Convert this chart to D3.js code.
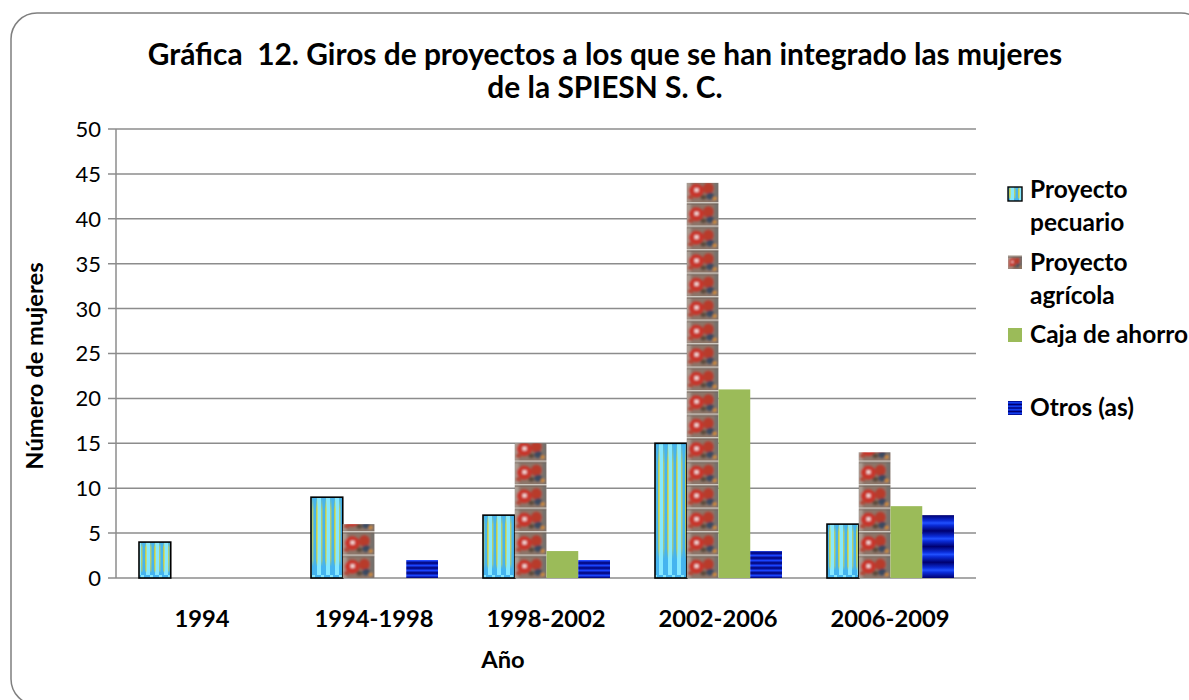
<!DOCTYPE html>
<html><head><meta charset="utf-8">
<script src="https://cdn.jsdelivr.net/npm/d3@7"></script>
<style>body{margin:0;background:#fff}svg{display:block}text{white-space:pre}</style>
</head><body>
<svg id="c" width="1189" height="700"></svg>
<script>
const categories = ["1994","1994-1998","1998-2002","2002-2006","2006-2009"];
const seriesNames = ["Proyecto pecuario","Proyecto agrícola","Caja de ahorro","Otros (as)"];
const pecuario = [4, 9, 7, 15, 6];
const agricola = [0, 6, 15, 44, 14];
const caja = [0, 0, 3, 21, 8];
const otros = [0, 2, 2, 3, 7];
const yTicks = [0,5,10,15,20,25,30,35,40,45,50];
const titleLines = ["Gráfica  12. Giros de proyectos a los que se han integrado las mujeres","de la SPIESN S. C."];
const legendLines = [["Proyecto","pecuario"],["Proyecto","agrícola"],["Caja de ahorro"],["Otros (as)"]];

const values = [pecuario, agricola, caja, otros];
const svg = d3.select("#c");
const FONT = "Lato, 'Open Sans', sans-serif";
const defs = svg.append("defs");

// frame
svg.append("rect").attr("x",11).attr("y",13).attr("width",1196).attr("height",692)
  .attr("rx",26).attr("fill","#fff").attr("stroke","#7f7f7f").attr("stroke-width",1.5);

const L=116, R=976, T=129, B=578;
const x0 = d3.scaleBand().domain(categories).range([L,R]).padding(0);
const x1 = d3.scaleBand().domain(seriesNames).range([23, 23+127]).padding(0);
const y = d3.scaleLinear().domain([0,50]).range([B,T]);

// blur filter
defs.append("filter").attr("id","blur").attr("x",-0.2).attr("y",-0.2).attr("width",1.4).attr("height",1.4)
  .append("feGaussianBlur").attr("stdDeviation",0.9);

// pecuario stripes
const pp = defs.append("pattern").attr("id","pec").attr("patternUnits","userSpaceOnUse").attr("width",9).attr("height",10);
pp.append("rect").attr("width",9).attr("height",10).attr("fill","#45b4ef");
pp.append("rect").attr("x",2).attr("width",4).attr("height",10).attr("fill","#86e8ff");
const py = defs.append("pattern").attr("id","pecY").attr("patternUnits","userSpaceOnUse").attr("width",9).attr("height",10);
py.append("rect").attr("x",1.2).attr("width",1.4).attr("height",10).attr("fill","#ffd800");
py.append("rect").attr("x",6.2).attr("width",1.2).attr("height",10).attr("fill","#f0dc30");
const mg = defs.append("linearGradient").attr("id","mgrad").attr("x1",0).attr("y1",0).attr("x2",0).attr("y2",1);
[[0,0],[0.15,0.75],[0.5,0.85],[0.78,0.6],[0.86,0]].forEach(([o,v])=>mg.append("stop").attr("offset",o).attr("stop-color","#fff").attr("stop-opacity",v));
const mask = defs.append("mask").attr("id","pecMask").attr("maskContentUnits","objectBoundingBox");
mask.append("rect").attr("width",1).attr("height",1).attr("fill","url(#mgrad)");
const pc = defs.append("pattern").attr("id","pecB").attr("patternUnits","userSpaceOnUse").attr("width",9).attr("height",6).attr("y",B);
pc.append("rect").attr("width",9).attr("height",6).attr("fill","#45b4ef");
pc.append("rect").attr("x",2).attr("width",4).attr("height",3).attr("fill","#86e8ff");
pc.append("rect").attr("x",6).attr("y",3).attr("width",3).attr("height",3).attr("fill","#86e8ff");

// agricola photo-like tiles, one per category aligned to bar x
function agrTile(p, w, h){
  p.append("rect").attr("width",w).attr("height",h).attr("fill","#8c766a");
  const gg = p.append("g").attr("filter","url(#blur)");
  gg.append("rect").attr("x",-2).attr("width",6).attr("height",h).attr("fill","#a99c92");
  gg.append("rect").attr("x",w-4).attr("width",5).attr("height",h).attr("fill","#75706c");
  gg.append("ellipse").attr("cx",w*0.3).attr("cy",h*0.52).attr("rx",w*0.24).attr("ry",h*0.3).attr("fill","#c8352c");
  gg.append("ellipse").attr("cx",w*0.68).attr("cy",h*0.42).attr("rx",w*0.17).attr("ry",h*0.24).attr("fill","#b83a2c");
  gg.append("rect").attr("x",w*0.25).attr("y",h*0.42).attr("width",w*0.12).attr("height",h*0.15).attr("fill","#f6e0e0");
  gg.append("ellipse").attr("cx",w*0.74).attr("cy",h*0.75).attr("rx",w*0.12).attr("ry",h*0.15).attr("fill","#3a4860");
  gg.append("ellipse").attr("cx",w*0.52).attr("cy",h*0.8).attr("rx",w*0.09).attr("ry",h*0.1).attr("fill","#5a4a3a");
  gg.append("ellipse").attr("cx",w*0.88).attr("cy",h*0.85).attr("rx",w*0.06).attr("ry",h*0.08).attr("fill","#d89030");
  gg.append("ellipse").attr("cx",w*0.12).attr("cy",h*0.8).attr("rx",w*0.09).attr("ry",h*0.1).attr("fill","#b04838");
  p.append("rect").attr("width",w).attr("height",1.6).attr("fill","#cfc8c0");
  p.append("rect").attr("y",1.6).attr("width",w).attr("height",0.8).attr("fill","#6e6058");
}
categories.forEach((c,i)=>{
  const bx = x0(c)+x1(seriesNames[1]);
  const w = x1.bandwidth();
  const p = defs.append("pattern").attr("id","agr"+i).attr("patternUnits","userSpaceOnUse")
    .attr("x",bx).attr("y",B).attr("width",w).attr("height",23.5);
  agrTile(p, w, 23.5);
});
// otros gradient
const og = defs.append("linearGradient").attr("id","otr").attr("x1",0).attr("y1",0).attr("x2",0).attr("y2",0.25).attr("spreadMethod","repeat");
[[0,"#000070"],[0.35,"#0a2cd8"],[0.5,"#2050ff"],[0.65,"#0a2cd8"],[1,"#000070"]].forEach(([o,c])=>og.append("stop").attr("offset",o).attr("stop-color",c));
const ogS = defs.append("pattern").attr("id","otrS").attr("patternUnits","userSpaceOnUse").attr("y",B).attr("width",10).attr("height",5);
const ogg = defs.append("linearGradient").attr("id","otrg").attr("x1",0).attr("y1",0).attr("x2",0).attr("y2",1);
[[0,"#000070"],[0.5,"#1a44ff"],[1,"#000070"]].forEach(([o,c])=>ogg.append("stop").attr("offset",o).attr("stop-color",c));
ogS.append("rect").attr("width",10).attr("height",5).attr("fill","url(#otrg)");

// grid
svg.append("g").selectAll("line").data(yTicks).join("line")
  .attr("x1",L-8).attr("x2",R).attr("y1",d=>y(d)).attr("y2",d=>y(d))
  .attr("stroke","#8c8c8c").attr("stroke-width",1.5);
svg.append("line").attr("x1",L).attr("x2",L).attr("y1",T).attr("y2",B).attr("stroke","#8c8c8c").attr("stroke-width",1.5);

// y tick labels
svg.append("g").selectAll("text").data(yTicks).join("text")
  .attr("x",101).attr("y",d=>y(d)).attr("dy","0.36em").attr("text-anchor","end")
  .attr("font-family",FONT).attr("font-size",22).attr("fill","#000").text(d=>d);

// bars
const g = svg.append("g");
categories.forEach((c,i)=>{
  seriesNames.forEach((s,j)=>{
    const v = values[j][i];
    if(!v) return;
    const bx = x0(c)+x1(s), w = x1.bandwidth(), by = y(v), h = y(0)-y(v);
    if(j===0){
      g.append("rect").attr("x",bx).attr("y",by).attr("width",w).attr("height",h).attr("fill","url(#pec)");
      g.append("rect").attr("x",bx).attr("y",B-6).attr("width",w).attr("height",6).attr("fill","url(#pecB)");
      g.append("rect").attr("x",bx).attr("y",by).attr("width",w).attr("height",h).attr("fill","url(#pecY)").attr("mask","url(#pecMask)");
      g.append("rect").attr("x",bx).attr("y",by).attr("width",w).attr("height",h).attr("fill","none").attr("stroke","#000").attr("stroke-width",1.6);
    } else if(j===1){
      g.append("rect").attr("x",bx).attr("y",by).attr("width",w).attr("height",h).attr("fill","url(#agr"+i+")");
    } else if(j===2){
      g.append("rect").attr("x",bx).attr("y",by).attr("width",w).attr("height",h).attr("fill","#9bbb59");
    } else {
      g.append("rect").attr("x",bx).attr("y",by).attr("width",w).attr("height",h).attr("fill", h<30 ? "url(#otrS)" : "url(#otr)");
    }
  });
});

function fit(sel, target){
  const n = sel.node(); const fs = +sel.attr("font-size");
  const w = n.getComputedTextLength();
  return fs*target/w;
}

// title
const t1 = svg.append("text").attr("x",605).attr("y",65).attr("text-anchor","middle")
  .attr("font-family",FONT).attr("font-weight","bold").attr("font-size",22).text(titleLines[0]);
const tfs = fit(t1, 915); t1.attr("font-size",tfs);
svg.append("text").attr("x",605).attr("y",98).attr("text-anchor","middle")
  .attr("font-family",FONT).attr("font-weight","bold").attr("font-size",tfs).text(titleLines[1]);

// x labels
const xl = svg.append("g").selectAll("text").data(categories).join("text")
  .attr("x",d=>x0(d)+x0.bandwidth()/2).attr("y",627).attr("text-anchor","middle")
  .attr("font-family",FONT).attr("font-weight","bold").attr("font-size",20).text(d=>d);
const bfs = fit(xl.filter(d=>d==="1994-1998"), 119);
xl.attr("font-size",bfs);

svg.append("text").attr("x",503).attr("y",668).attr("text-anchor","middle")
  .attr("font-family",FONT).attr("font-weight","bold").attr("font-size",bfs).text("Año");
svg.append("text").attr("transform","translate(43,366) rotate(-90)").attr("text-anchor","middle")
  .attr("font-family",FONT).attr("font-weight","bold").attr("font-size",bfs).text("Número de mujeres");

// legend
const swY = [194, 262, 335, 408];
const txtY = [[198,231],[271,304],[343],[416]];
const lg = svg.append("g");
const ld = defs.append("pattern").attr("id","agrL").attr("patternUnits","userSpaceOnUse").attr("x",1008).attr("y",255).attr("width",14).attr("height",14);
agrTile(ld, 14, 14);
seriesNames.forEach((s,j)=>{
  const sy = swY[j]-7;
  if(j===0){
    lg.append("rect").attr("x",1008).attr("y",sy).attr("width",14).attr("height",14).attr("fill","url(#pec)");
    lg.append("rect").attr("x",1008).attr("y",sy).attr("width",14).attr("height",14).attr("fill","url(#pecY)").attr("mask","url(#pecMask)");
    lg.append("rect").attr("x",1008).attr("y",sy).attr("width",14).attr("height",14).attr("fill","none").attr("stroke","#000").attr("stroke-width",1.4);
  } else if(j===1){
    lg.append("rect").attr("x",1008).attr("y",sy).attr("width",14).attr("height",14).attr("fill","url(#agrL)");
  } else if(j===3){
    lg.append("rect").attr("x",1008).attr("y",sy).attr("width",14).attr("height",14).attr("fill","url(#otr)");
  } else {
    lg.append("rect").attr("x",1008).attr("y",sy).attr("width",14).attr("height",14).attr("fill","#9bbb59");
  }
  legendLines[j].forEach((ln,k)=>{
    lg.append("text").attr("x",1030).attr("y",txtY[j][k]).attr("font-family",FONT)
      .attr("font-weight","bold").attr("font-size",bfs*1.03).text(ln);
  });
});
</script>
</body></html>
